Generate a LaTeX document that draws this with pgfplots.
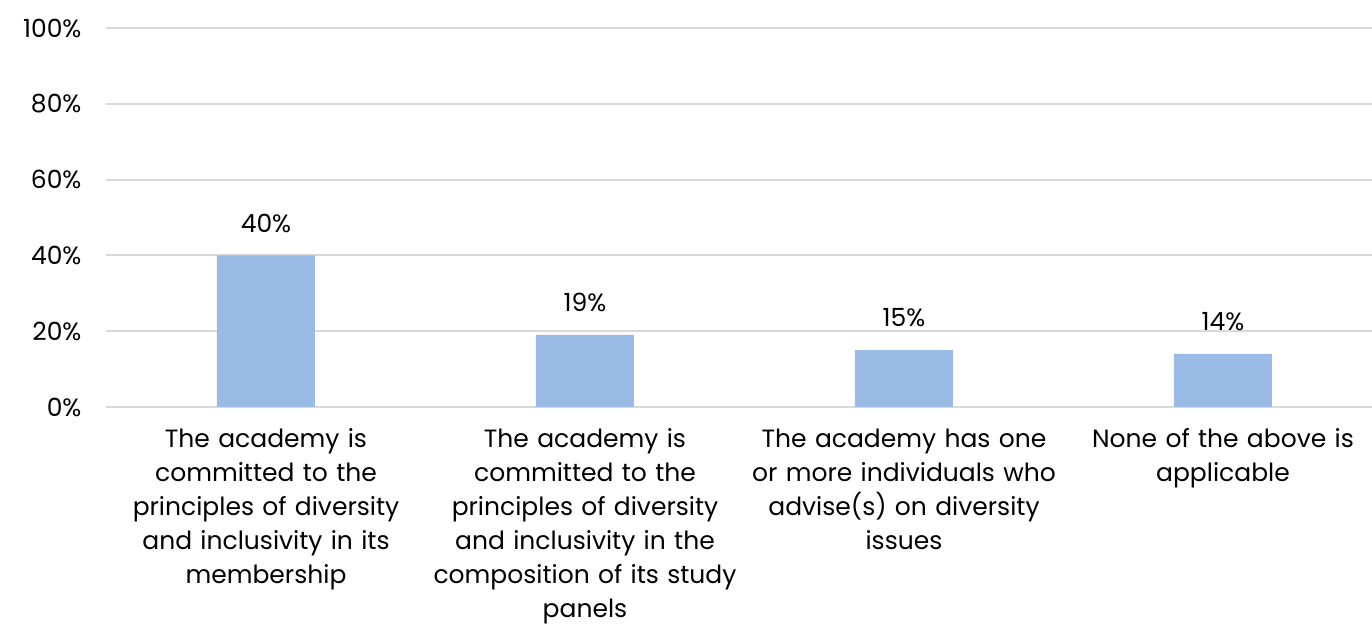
\documentclass[border=0pt]{standalone}
\usepackage{pgfplots}
\pgfplotsset{compat=1.18}
\usepackage{fontspec}
\setmainfont{Poppins}
\definecolor{barblue}{HTML}{99BBE5}
\definecolor{gridgray}{HTML}{D9D9D9}
\begin{document}
\begin{tikzpicture}
\path[use as bounding box] (-53.25pt,-108.5pt) rectangle (632.75pt,203.5pt);
\begin{axis}[
  at={(0pt,0pt)}, anchor=south west,
  scale only axis,
  width=638pt, height=189.5pt,
  xmin=-0.5, xmax=3.5,
  ymin=0, ymax=100,
  ytick={0,20,40,60,80,100},
  yticklabel={\pgfmathprintnumber{\tick}\%},
  /pgf/number format/assume math mode=true,
  xtick={0,1,2,3},
  xticklabels={
    {The academy is\\committed to the\\principles of diversity\\and inclusivity in its\\membership},
    {The academy is\\committed to the\\principles of diversity\\and inclusivity in the\\composition of its study\\panels},
    {The academy has one\\or more individuals who\\advise(s) on diversity\\issues},
    {None of the above is\\applicable}},
  xticklabel style={align=center, text width=160pt, font=\fontsize{12.5}{17}\selectfont, anchor=north, yshift=-3pt},
  yticklabel style={font=\fontsize{12.5}{15}\selectfont, xshift=-9pt},
  axis line style={draw=none},
  major tick style={draw=none},
  ymajorgrids,
  grid style={gridgray, line width=1pt},
  ybar, bar width=49pt,
  nodes near coords={\pgfmathprintnumber{\pgfplotspointmeta}\%},
  nodes near coords style={font=\fontsize{12.5}{15}\selectfont, /pgf/number format/assume math mode=true, yshift=8pt},
]
\addplot[fill=barblue, draw=none] coordinates {(0,40) (1,19) (2,15) (3,14)};
\end{axis}
\end{tikzpicture}
\end{document}
